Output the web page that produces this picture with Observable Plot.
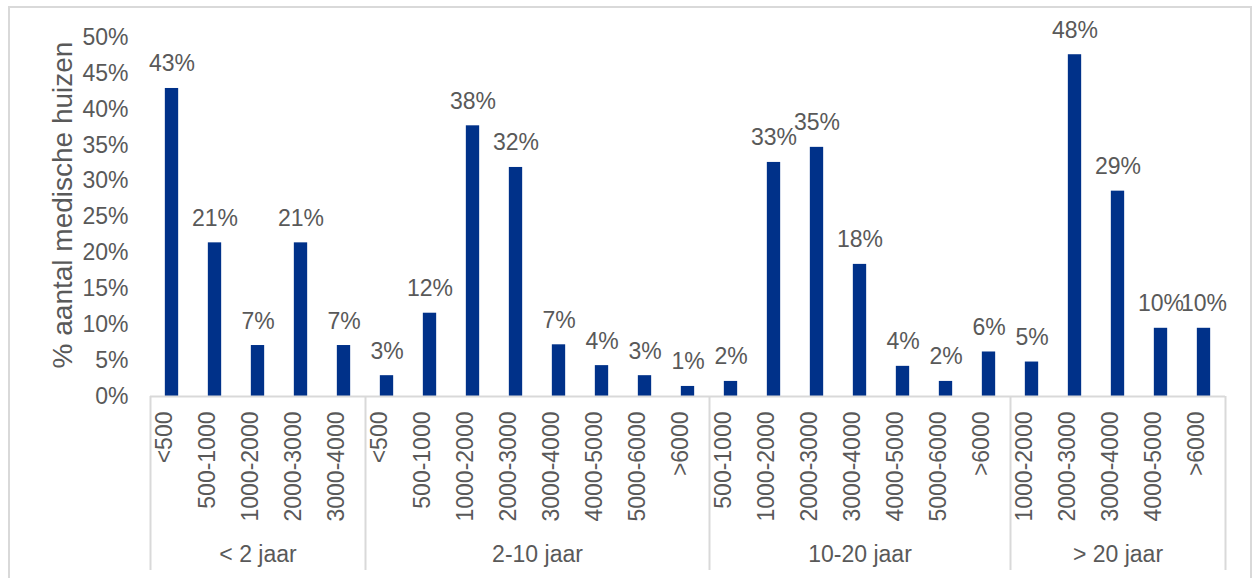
<!DOCTYPE html>
<html>
<head>
<meta charset="utf-8">
<script src="https://cdn.jsdelivr.net/npm/d3@7"></script>
<script src="https://cdn.jsdelivr.net/npm/@observablehq/plot@0.6"></script>
<style>
  html, body { margin: 0; padding: 0; background: #fff; }
  #wrap { position: relative; width: 1256px; height: 578px; overflow: hidden; }
  #border { position: absolute; left: 8px; top: 6px; width: 1244px; height: 600px; border: 2px solid #d9d9d9; box-sizing: border-box; }
  #chart { position: absolute; left: 0; top: 0; }
</style>
</head>
<body>
<div id="wrap"><div id="border"></div><div id="chart"></div></div>
<script>
const groupNames = ["< 2 jaar", "2-10 jaar", "10-20 jaar", "> 20 jaar"];
const binsLt2 = ["<500", "500-1000", "1000-2000", "2000-3000", "3000-4000"];
const valuesLt2 = [42.9, 21.4, 7.1, 21.4, 7.1];
const bins2to10 = ["<500", "500-1000", "1000-2000", "2000-3000", "3000-4000", "4000-5000", "5000-6000", ">6000"];
const values2to10 = [2.9, 11.6, 37.7, 31.9, 7.2, 4.3, 2.9, 1.4];
const bins10to20 = ["500-1000", "1000-2000", "2000-3000", "3000-4000", "4000-5000", "5000-6000", ">6000"];
const values10to20 = [2.1, 32.6, 34.7, 18.4, 4.2, 2.1, 6.2];
const binsGt20 = ["1000-2000", "2000-3000", "3000-4000", "4000-5000", ">6000"];
const valuesGt20 = [4.8, 47.6, 28.6, 9.5, 9.5];
const yTicks = [0, 5, 10, 15, 20, 25, 30, 35, 40, 45, 50];
const yLabel = "% aantal medische huizen";

const groupBins = [binsLt2, bins2to10, bins10to20, binsGt20];
const groupValues = [valuesLt2, values2to10, values10to20, valuesGt20];

// flatten into a table with sequential index
const rows = [];
const groups = [];
let idx = 0;
groupNames.forEach((g, gi) => {
  const start = idx;
  groupBins[gi].forEach((b, bi) => {
    rows.push({group: g, bin: b, value: groupValues[gi][bi], i: idx});
    idx++;
  });
  groups.push({group: g, start, end: idx, mid: (start + idx) / 2});
});
const n = idx;
const bounds = [...groups.map(d => d.start), n];

const barFrac = 0.31;
const fontFamily = "'Liberation Sans', Arial, Helvetica, sans-serif";
const textColor = "#595959";
const gridColor = "#d9d9d9";
const barColor = "#003189";
const fs = 23;

const chart = Plot.plot({
  width: 1256,
  height: 578,
  marginLeft: 150,
  marginRight: 31,
  marginTop: 37,
  marginBottom: 182,
  style: {fontFamily, fontSize: fs + "px", color: textColor, background: "transparent"},
  x: {domain: [0, n], axis: null},
  y: {domain: [0, 50], axis: null},
  marks: [
    Plot.axisY(yTicks, {
      tickSize: 0,
      tickPadding: 22,
      tickFormat: d => d + "%",
      label: null,
      fontSize: fs,
      fill: textColor
    }),
    Plot.rectY(rows, {
      x1: d => d.i + (1 - barFrac) / 2,
      x2: d => d.i + (1 + barFrac) / 2,
      y: "value",
      fill: barColor
    }),
    Plot.ruleY([0], {stroke: gridColor, strokeWidth: 2}),
    Plot.ruleX(bounds, {stroke: gridColor, strokeWidth: 2, insetTop: 359, insetBottom: -174}),
    Plot.text(rows, {
      x: d => d.i + 0.5,
      y: "value",
      text: d => Math.round(d.value) + "%",
      lineAnchor: "bottom",
      dy: -17,
      fill: textColor,
      fontSize: fs
    }),
    Plot.text(rows, {
      x: d => d.i + 0.5,
      frameAnchor: "bottom",
      text: "bin",
      rotate: -90,
      textAnchor: "end",
      dy: 15,
      fill: textColor,
      fontSize: fs
    }),
    Plot.text(groups, {
      x: "mid",
      frameAnchor: "bottom",
      text: "group",
      dy: 165,
      fill: textColor,
      fontSize: fs
    }),
    Plot.text([yLabel], {
      frameAnchor: "left",
      text: d => d,
      rotate: -90,
      textAnchor: "middle",
      dx: -87,
      dy: -12,
      fill: textColor,
      fontSize: 28
    })
  ]
});
document.getElementById("chart").appendChild(chart);
</script>
</body>
</html>
